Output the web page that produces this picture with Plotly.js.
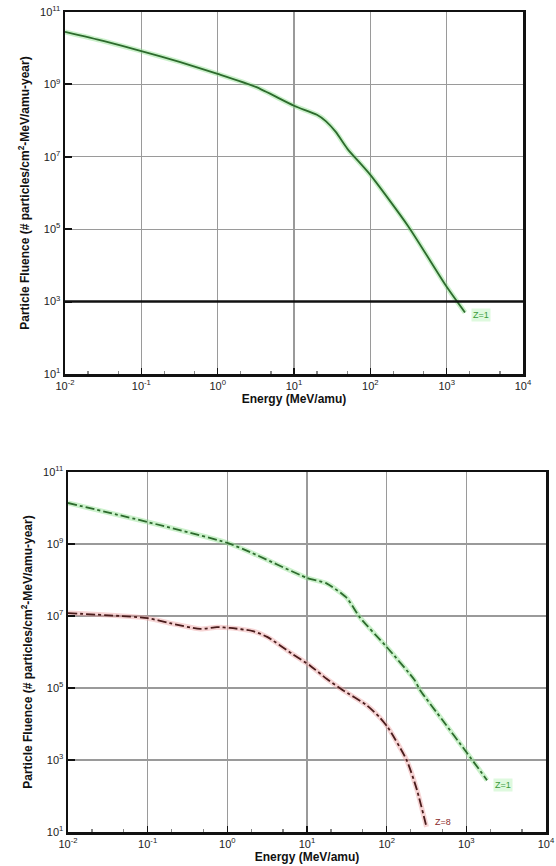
<!DOCTYPE html>
<html>
<head>
<meta charset="utf-8">
<script src="https://cdn.plot.ly/plotly-3.0.1.min.js"></script>
<style>html,body{margin:0;padding:0;background:#fff;}#chart{width:556px;height:866px;}</style>
</head>
<body>
<div id="chart"></div>
<script>
// ---- Data (log10 values) ----
// Top panel: Z=1
const topZ1_logE = [-2.0, -1.5, -1.0, -0.5, 0.0, 0.5, 1.0, 1.3, 1.42, 1.55, 1.7, 2.0, 2.5, 3.0, 3.24];
const topZ1_logF = [10.45, 10.2, 9.92, 9.62, 9.29, 8.93, 8.41, 8.16, 7.98, 7.68, 7.22, 6.50, 5.07, 3.41, 2.70];
// Bottom panel: Z=1
const botZ1_logE = [-2.0, -1.0, 0.0, 0.28, 1.0, 1.25, 1.5, 1.66, 2.0, 2.35, 2.42, 2.70, 3.0, 3.26];
const botZ1_logF = [10.14, 9.61, 9.03, 8.78, 8.06, 7.9, 7.5, 6.97, 6.14, 5.22, 4.94, 4.11, 3.22, 2.44];
// Bottom panel: Z=8
const botZ8_logE = [-2.0, -1.0, -0.72, -0.34, -0.13, 0.03, 0.32, 0.5, 0.8, 1.04, 1.25, 1.45, 1.75, 1.91, 2.02, 2.25, 2.38, 2.50];
const botZ8_logF = [7.08, 6.94, 6.8, 6.64, 6.69, 6.67, 6.58, 6.42, 5.97, 5.62, 5.25, 4.94, 4.52, 4.19, 3.89, 3.0, 2.17, 1.14];

const xTickVals = [1e-2, 1e-1, 1e0, 1e1, 1e2, 1e3, 1e4];
const xTickText = ['10<sup>-2</sup>','10<sup>-1</sup>','10<sup>0</sup>','10<sup>1</sup>','10<sup>2</sup>','10<sup>3</sup>','10<sup>4</sup>'];
const yTickVals = [1e1, 1e3, 1e5, 1e7, 1e9, 1e11];
const yTickText = ['10<sup>1</sup>','10<sup>3</sup>','10<sup>5</sup>','10<sup>7</sup>','10<sup>9</sup>','10<sup>11</sup>'];
const seriesLabels = ['Z=1', 'Z=1', 'Z=8'];
const refLine = 1e3;

const pw = v => v.map(e => Math.pow(10, e));

const greenDark = '#2d6b2d', greenHalo = 'rgba(140,225,140,0.45)';
const redDark = '#4a1c1c', redHalo = 'rgba(235,160,160,0.45)';

function pair(xs, ys, xa, ya, dark, halo, dash) {
  return [
    {x: pw(xs), y: pw(ys), xaxis: xa, yaxis: ya, mode: 'lines', line: {color: halo, width: 5, shape: 'spline', smoothing: 0.6}, hoverinfo: 'skip', showlegend: false},
    {x: pw(xs), y: pw(ys), xaxis: xa, yaxis: ya, mode: 'lines', line: {color: dark, width: 1.8, dash: dash, shape: 'spline', smoothing: 0.6}, showlegend: false}
  ];
}

const data = [
  ...pair(topZ1_logE, topZ1_logF, 'x', 'y', greenDark, greenHalo, 'solid'),
  ...pair(botZ1_logE, botZ1_logF, 'x2', 'y2', greenDark, greenHalo, 'dashdot'),
  ...pair(botZ8_logE, botZ8_logF, 'x2', 'y2', redDark, redHalo, 'dashdot')
];

const tickFont = {family: 'Liberation Sans, Arial, sans-serif', size: 11, color: '#222'};
const titleFont = {family: 'Liberation Sans, Arial, sans-serif', size: 12, color: '#111', weight: 'bold'};

function xAxis(domain, anchor) {
  return {
    type: 'log', domain: domain, anchor: anchor, range: [-2, 4],
    tickvals: xTickVals, ticktext: xTickText, tickfont: tickFont,
    showgrid: true, gridcolor: '#9a9a9a', gridwidth: 1.2,
    showline: true, linecolor: '#111', linewidth: 2.5, mirror: true,
    ticks: 'inside', ticklen: 6, tickcolor: '#111', tickwidth: 1.5,
    minor: {ticks: 'inside', ticklen: 3, tickcolor: '#888', showgrid: false},
    zeroline: false,
    title: {text: '<b>Energy (MeV/amu)</b>', font: titleFont, standoff: 0}
  };
}
function yAxis(domain, anchor) {
  return {
    type: 'log', domain: domain, anchor: anchor, range: [1, 11],
    tickvals: yTickVals, ticktext: yTickText, tickfont: tickFont,
    showgrid: true, gridcolor: '#9a9a9a', gridwidth: 1.2,
    showline: true, linecolor: '#111', linewidth: 2.5, mirror: true,
    ticks: 'inside', ticklen: 7, tickcolor: '#111', tickwidth: 2,
    zeroline: false,
    title: {text: '<b>Particle Fluence (# particles/cm<sup>2</sup>-MeV/amu-year)</b>', font: titleFont, standoff: 8}
  };
}

const layout = {
  width: 556, height: 866,
  margin: {l: 0, r: 0, t: 0, b: 0},
  paper_bgcolor: '#fff', plot_bgcolor: '#fff',
  xaxis: xAxis([65/556, 523/556], 'y'),
  yaxis: yAxis([1 - 374/866, 1 - 12/866], 'x'),
  xaxis2: xAxis([68/556, 546/556], 'y2'),
  yaxis2: yAxis([1 - 832/866, 1 - 472/866], 'x2'),
  shapes: [
    {type: 'line', xref: 'x domain', yref: 'y', x0: 0, x1: 1, y0: refLine, y1: refLine, line: {color: '#111', width: 2.5}}
  ],
  annotations: [
    {x: topZ1_logE[topZ1_logE.length-1], y: topZ1_logF[topZ1_logF.length-1], xref: 'x', yref: 'y', text: seriesLabels[0], showarrow: false, xanchor: 'left', xshift: 6, yshift: -3, font: {size: 9, color: '#3a9a3a', family: 'Liberation Sans, Arial'}, bgcolor: 'rgba(200,245,200,0.6)'},
    {x: botZ1_logE[botZ1_logE.length-1], y: botZ1_logF[botZ1_logF.length-1], xref: 'x2', yref: 'y2', text: seriesLabels[1], showarrow: false, xanchor: 'left', xshift: 6, yshift: -5, font: {size: 9, color: '#3a9a3a', family: 'Liberation Sans, Arial'}, bgcolor: 'rgba(200,245,200,0.6)'},
    {x: botZ8_logE[botZ8_logE.length-1], y: botZ8_logF[botZ8_logF.length-1], xref: 'x2', yref: 'y2', text: seriesLabels[2], showarrow: false, xanchor: 'left', xshift: 6, yshift: 5, font: {size: 9, color: '#8a2a2a', family: 'Liberation Sans, Arial'}}
  ]
};

Plotly.newPlot('chart', data, layout, {displayModeBar: false, staticPlot: true});
</script>
</body>
</html>
